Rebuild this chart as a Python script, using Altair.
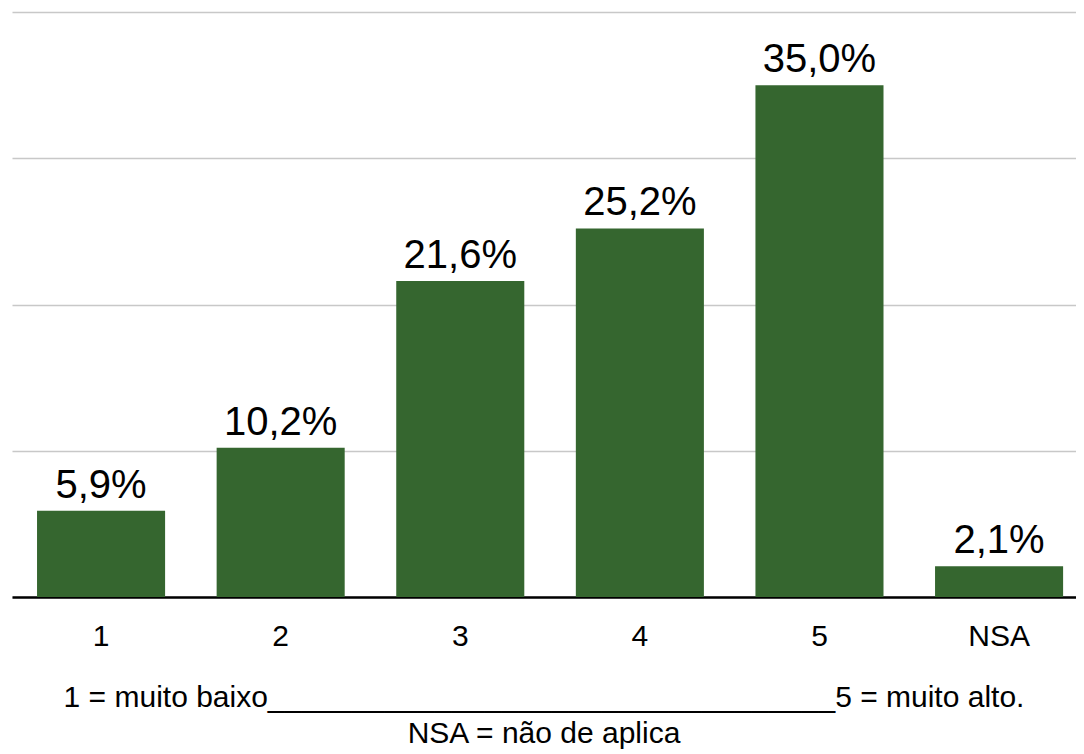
import altair as alt
import pandas as pd

categories = ["1", "2", "3", "4", "5", "NSA"]
values = [5.9, 10.2, 21.6, 25.2, 35.0, 2.1]
labels = [f"{v:.1f}".replace(".", ",") + "%" for v in values]
footer_lines = [
    "1 = muito baixo" + "_" * 34 + "5 = muito alto.",
    "NSA = não de aplica",
]

df = pd.DataFrame({"cat": categories, "val": values, "label": labels})

FONT = "Liberation Sans"
GREEN = "#35662f"

x = alt.X(
    "cat:N",
    sort=categories,
    scale=alt.Scale(paddingInner=0.287, paddingOuter=0.1056, align=0.66),
    axis=alt.Axis(
        title=None,
        labelAngle=0,
        labelFontSize=30,
        labelFont=FONT,
        labelColor="#000000",
        labelPadding=24,
        ticks=False,
        domainColor="#000000",
        domainWidth=2.5,
        grid=False,
    ),
)
y = alt.Y(
    "val:Q",
    scale=alt.Scale(domain=[0, 40], nice=False),
    axis=alt.Axis(
        title=None,
        labels=False,
        ticks=False,
        domain=False,
        values=[0, 10, 20, 30, 40],
        grid=True,
        gridColor="#c8c8c8",
        gridWidth=1.5,
    ),
)

bars = alt.Chart(df).mark_bar(color=GREEN).encode(x=x, y=y)
text = alt.Chart(df).mark_text(
    baseline="alphabetic", dy=-13, fontSize=40, font=FONT, color="#000000"
).encode(x=alt.X("cat:N", sort=categories), y="val:Q", text="label:N")

chart = (
    alt.layer(bars, text)
    .properties(
        width=1064,
        height=585,
        padding={"left": 4, "top": 4, "right": 0, "bottom": 0},
        title=alt.TitleParams(
            text=footer_lines,
            orient="bottom",
            anchor="middle",
            fontSize=30,
            font=FONT,
            fontWeight="normal",
            color="#000000",
            lineHeight=36,
            offset=32,
        ),
    )
    .configure_view(stroke=None)
)

chart.save("out.html", embed_options={"renderer": "svg", "actions": False})
